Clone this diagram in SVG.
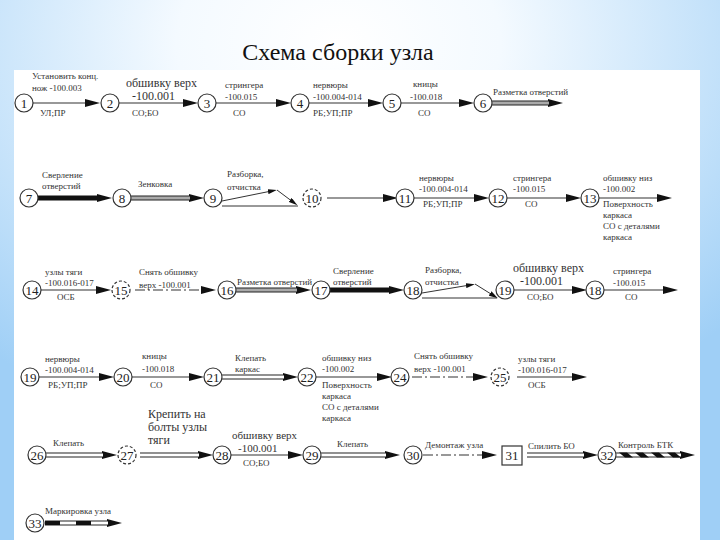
<svg xmlns="http://www.w3.org/2000/svg" width="720" height="540" viewBox="0 0 720 540">
<defs>
<radialGradient id="bg" cx="0.47" cy="0.08" r="0.75">
<stop offset="0" stop-color="#ffffff"/>
<stop offset="0.3" stop-color="#f4faff"/>
<stop offset="1" stop-color="#9fcff6"/>
</radialGradient>
<marker id="ah" markerWidth="15" markerHeight="8" viewBox="0 0 15 8" refX="1" refY="4" orient="auto" markerUnits="userSpaceOnUse">
<path d="M0,0 L15,4 L0,8 z" fill="#111"/>
</marker>
<marker id="ahs" markerWidth="9" markerHeight="5" viewBox="0 0 9 5" refX="1" refY="2.5" orient="auto" markerUnits="userSpaceOnUse">
<path d="M0,0 L9,2.5 L0,5 z" fill="#111"/>
</marker>
<style>
.c{fill:#fff;stroke:#333;stroke-width:1.2}
.cd{fill:#fff;stroke:#333;stroke-width:1.2;stroke-dasharray:3 2}
.n{font-family:"Liberation Serif","DejaVu Serif",serif;font-size:13px;fill:#222;text-anchor:middle}
.t{font-family:"Liberation Serif","DejaVu Serif",serif;font-size:9px;fill:#333}
.tb{font-size:12px}
.tm{font-size:11px}
.ln{stroke:#333;stroke-width:1.2;fill:none;marker-end:url(#ah)}
.lns{stroke:#333;stroke-width:1;fill:none;marker-end:url(#ahs)}
.pl{stroke:#333;stroke-width:1;fill:none}
.thick{stroke:#111;stroke-width:5;fill:none;marker-end:url(#ah)}
.dbo{stroke:#222;stroke-width:5;fill:none;marker-end:url(#ah)}
.dbg{stroke:#aaa;stroke-width:3;fill:none}
.dbw{stroke:#fff;stroke-width:3;fill:none}
.dd{stroke-dasharray:10 3 2 3}
.blk{fill:#111}
</style>
</defs>
<rect x="0" y="0" width="720" height="540" fill="url(#bg)"/>
<rect x="14" y="70" width="686" height="470" fill="#fff"/>
<text x="338" y="60" font-family="Liberation Serif, DejaVu Serif, serif" font-size="24" fill="#111" text-anchor="middle">Схема сборки узла</text>

<g id="connectors">
<!-- row 1 -->
<line class="ln" x1="33" y1="103" x2="86" y2="103"/>
<line class="ln" x1="119" y1="103" x2="184" y2="103"/>
<line class="ln" x1="216" y1="103" x2="277" y2="103"/>
<line class="ln" x1="309" y1="103" x2="369" y2="103"/>
<line class="ln" x1="401" y1="103" x2="460" y2="103"/>
<line class="dbo" x1="492" y1="103" x2="549" y2="103"/><line class="dbg" x1="492" y1="103" x2="549" y2="103"/>
<!-- row 2 -->
<line class="thick" x1="38" y1="198" x2="98" y2="198"/>
<line class="dbo" x1="131" y1="198" x2="190" y2="198"/><line class="dbg" x1="131" y1="198" x2="190" y2="198"/>
<line class="lns" x1="222" y1="201" x2="269" y2="191.5"/>
<line class="lns" x1="277" y1="190" x2="291" y2="200.5"/>
<line class="pl" x1="222" y1="206" x2="298" y2="206"/>
<line class="ln" x1="327" y1="198" x2="384" y2="198"/>
<line class="ln" x1="414" y1="198" x2="475" y2="198"/>
<line class="ln" x1="507" y1="198" x2="567" y2="198"/>
<line class="ln" x1="599" y1="198" x2="658" y2="198"/>
<!-- row 3 -->
<line class="ln" x1="41" y1="290" x2="97" y2="290"/>
<line class="ln dd" x1="135" y1="290" x2="202" y2="290"/>
<line class="dbo" x1="236" y1="290" x2="297" y2="290"/><line class="dbg" x1="236" y1="290" x2="297" y2="290"/>
<line class="thick" x1="330" y1="290" x2="390" y2="290"/>
<line class="lns" x1="422" y1="293" x2="467" y2="285.5"/>
<line class="lns" x1="475" y1="284" x2="491" y2="294"/>
<line class="pl" x1="422" y1="298" x2="497" y2="298"/>
<line class="ln" x1="514" y1="290" x2="573" y2="290"/>
<line class="ln" x1="604" y1="290" x2="664" y2="290"/>
<!-- row 4 -->
<line class="ln" x1="39" y1="377" x2="100" y2="377"/>
<line class="ln" x1="132" y1="377" x2="190" y2="377"/>
<line class="dbo" x1="222" y1="377" x2="284" y2="377"/><line class="dbw" x1="222" y1="377" x2="284" y2="377"/>
<line class="ln" x1="316" y1="377" x2="378" y2="377"/>
<line class="ln dd" x1="412" y1="377" x2="474" y2="377"/>
<line class="ln" x1="517" y1="377" x2="573" y2="377"/>
<!-- row 5 -->
<line class="dbo" x1="46" y1="455" x2="103" y2="455"/><line class="dbw" x1="46" y1="455" x2="103" y2="455"/>
<line class="dbo" x1="140" y1="455" x2="199" y2="455"/><line class="dbw" x1="140" y1="455" x2="199" y2="455"/>
<line class="ln" x1="231" y1="455" x2="289" y2="455"/>
<line class="dbo" x1="321" y1="455" x2="386" y2="455"/><line class="dbw" x1="321" y1="455" x2="386" y2="455"/>
<line class="ln dd" x1="423" y1="455" x2="483" y2="455"/>
<line class="dbo" x1="527" y1="455" x2="584" y2="455"/><line class="dbw" x1="527" y1="455" x2="584" y2="455"/>
<line class="dbo" x1="616" y1="455" x2="681" y2="455"/><line class="dbw" x1="616" y1="455" x2="681" y2="455"/>
<polygon class="blk" points="619,452.5 627,452.5 633,457.5 625,457.5"/>
<polygon class="blk" points="635,452.5 643,452.5 649,457.5 641,457.5"/>
<polygon class="blk" points="651,452.5 659,452.5 665,457.5 657,457.5"/>
<polygon class="blk" points="667,452.5 675,452.5 681,457.5 673,457.5"/>
<!-- row 6 -->
<line class="dbo" x1="45" y1="523" x2="108" y2="523"/><line class="dbw" x1="45" y1="523" x2="108" y2="523"/>
<rect class="blk" x="45" y="521" width="15" height="4"/>
<rect class="blk" x="76" y="521" width="15" height="4"/>
</g>

<g id="n1"><circle class="c" cx="24" cy="103" r="9"/><text class="n" x="24" y="108">1</text>
<text class="t" x="32" y="79">Установить конц.</text><text class="t" x="32" y="91">нож -100.003</text><text class="t" x="40" y="116">УЛ;ПР</text></g>
<g id="n2"><circle class="c" cx="110" cy="103" r="9"/><text class="n" x="110" y="108">2</text>
<text class="t tb" x="126" y="87">обшивку верх</text><text class="t tb" x="132" y="100">-100.001</text><text class="t" x="132" y="116">СО;БО</text></g>
<g id="n3"><circle class="c" cx="207" cy="103" r="9"/><text class="n" x="207" y="108">3</text>
<text class="t" x="225" y="88">стрингера</text><text class="t" x="225" y="100">-100.015</text><text class="t" x="233" y="116">СО</text></g>
<g id="n4"><circle class="c" cx="300" cy="103" r="9"/><text class="n" x="300" y="108">4</text>
<text class="t" x="313" y="88">нервюры</text><text class="t" x="313" y="100">-100.004-014</text><text class="t" x="313" y="116">РБ;УП;ПР</text></g>
<g id="n5"><circle class="c" cx="392" cy="103" r="9"/><text class="n" x="392" y="108">5</text>
<text class="t" x="413" y="87">кницы</text><text class="t" x="410" y="100">-100.018</text><text class="t" x="418" y="116">СО</text></g>
<g id="n6"><circle class="c" cx="483" cy="103" r="9"/><text class="n" x="483" y="108">6</text>
<text class="t" x="493" y="95">Разметка отверстий</text></g>

<g id="n7"><circle class="c" cx="29" cy="198" r="9"/><text class="n" x="29" y="203">7</text>
<text class="t" x="42" y="178">Сверление</text><text class="t" x="42" y="189">отверстий</text></g>
<g id="n8"><circle class="c" cx="122" cy="198" r="9"/><text class="n" x="122" y="203">8</text>
<text class="t" x="138" y="187">Зенковка</text></g>
<g id="n9"><circle class="c" cx="213" cy="198" r="9"/><text class="n" x="213" y="203">9</text>
<text class="t" x="227" y="177">Разборка,</text><text class="t" x="227" y="190">отчистка</text></g>
<g id="n10"><circle class="cd" cx="312" cy="198" r="9"/><text class="n" x="312" y="203">10</text></g>
<g id="n11"><circle class="c" cx="405" cy="198" r="9"/><text class="n" x="405" y="203">11</text>
<text class="t" x="419" y="181">нервюры</text><text class="t" x="419" y="192">-100.004-014</text><text class="t" x="423" y="207">РБ;УП;ПР</text></g>
<g id="n12"><circle class="c" cx="498" cy="198" r="9"/><text class="n" x="498" y="203">12</text>
<text class="t" x="513" y="181">стрингера</text><text class="t" x="513" y="192">-100.015</text><text class="t" x="525" y="207">СО</text></g>
<g id="n13"><circle class="c" cx="590" cy="198" r="9"/><text class="n" x="590" y="203">13</text>
<text class="t" x="603" y="181">обшивку низ</text><text class="t" x="603" y="192">-100.002</text><text class="t" x="603" y="207">Поверхность</text><text class="t" x="603" y="218">каркаса</text><text class="t" x="603" y="229">СО с деталями</text><text class="t" x="603" y="240">каркаса</text></g>

<g id="n14"><circle class="c" cx="32" cy="290" r="9"/><text class="n" x="32" y="295">14</text>
<text class="t" x="45" y="275">узлы тяги</text><text class="t" x="45" y="286">-100.016-017</text><text class="t" x="57" y="300">ОСБ</text></g>
<g id="n15"><circle class="cd" cx="121" cy="290" r="9"/><text class="n" x="121" y="295">15</text>
<text class="t" x="139" y="275">Снять обшивку</text><text class="t" x="139" y="288">верх -100.001</text></g>
<g id="n16"><circle class="c" cx="227" cy="290" r="9"/><text class="n" x="227" y="295">16</text>
<text class="t" x="237" y="285">Разметка отверстий</text></g>
<g id="n17"><circle class="c" cx="321" cy="290" r="9"/><text class="n" x="321" y="295">17</text>
<text class="t" x="333" y="274">Сверление</text><text class="t" x="333" y="285">отверстий</text></g>
<g id="n18"><circle class="c" cx="413" cy="290" r="9"/><text class="n" x="413" y="295">18</text>
<text class="t" x="425" y="273">Разборка,</text><text class="t" x="425" y="285">отчистка</text></g>
<g id="n19"><circle class="c" cx="505" cy="290" r="9"/><text class="n" x="505" y="295">19</text>
<text class="t tb" x="513" y="272">обшивку верх</text><text class="t tb" x="520" y="285">-100.001</text><text class="t" x="527" y="300">СО;БО</text></g>
<g id="n18b"><circle class="c" cx="595" cy="290" r="9"/><text class="n" x="595" y="295">18</text>
<text class="t" x="613" y="274">стрингера</text><text class="t" x="613" y="286">-100.015</text><text class="t" x="625" y="300">СО</text></g>

<g id="n19b"><circle class="c" cx="30" cy="377" r="9"/><text class="n" x="30" y="382">19</text>
<text class="t" x="45" y="362">нервюры</text><text class="t" x="45" y="373">-100.004-014</text><text class="t" x="48" y="388">РБ;УП;ПР</text></g>
<g id="n20"><circle class="c" cx="123" cy="377" r="9"/><text class="n" x="123" y="382">20</text>
<text class="t" x="142" y="359">кницы</text><text class="t" x="142" y="372">-100.018</text><text class="t" x="150" y="388">СО</text></g>
<g id="n21"><circle class="c" cx="213" cy="377" r="9"/><text class="n" x="213" y="382">21</text>
<text class="t" x="235" y="361">Клепать</text><text class="t" x="235" y="372">каркас</text></g>
<g id="n22"><circle class="c" cx="307" cy="377" r="9"/><text class="n" x="307" y="382">22</text>
<text class="t" x="322" y="361">обшивку низ</text><text class="t" x="322" y="372">-100.002</text><text class="t" x="322" y="388">Поверхность</text><text class="t" x="322" y="399">каркаса</text><text class="t" x="322" y="410">СО с деталями</text><text class="t" x="322" y="421">каркаса</text></g>
<g id="n24"><circle class="c" cx="400" cy="377" r="9"/><text class="n" x="400" y="382">24</text>
<text class="t" x="414" y="359">Снять обшивку</text><text class="t" x="414" y="372">верх -100.001</text></g>
<g id="n25"><circle class="cd" cx="500" cy="377" r="9"/><text class="n" x="500" y="382">25</text>
<text class="t" x="518" y="362">узлы тяги</text><text class="t" x="518" y="373">-100.016-017</text><text class="t" x="528" y="388">ОСБ</text></g>

<g id="n26"><circle class="c" cx="37" cy="455" r="9"/><text class="n" x="37" y="460">26</text>
<text class="t" x="53" y="446">Клепать</text></g>
<g id="n27"><circle class="cd" cx="127" cy="455" r="9"/><text class="n" x="127" y="460">27</text>
<text class="t tb" x="148" y="418">Крепить на</text><text class="t tb" x="148" y="431">болты узлы</text><text class="t tb" x="148" y="444">тяги</text></g>
<g id="n28"><circle class="c" cx="222" cy="455" r="9"/><text class="n" x="222" y="460">28</text>
<text class="t tm" x="232" y="439">обшивку верх</text><text class="t tm" x="238" y="452">-100.001</text><text class="t" x="243" y="466">СО;БО</text></g>
<g id="n29"><circle class="c" cx="312" cy="455" r="9"/><text class="n" x="312" y="460">29</text>
<text class="t" x="337" y="447">Клепать</text></g>
<g id="n30"><circle class="c" cx="413" cy="455" r="9"/><text class="n" x="413" y="460">30</text>
<text class="t" x="425" y="448">Демонтаж узла</text></g>
<g id="n31"><rect x="502" y="446" width="20" height="19" fill="#fff" stroke="#333" stroke-width="1.2"/><text class="n" x="512" y="460">31</text>
<text class="t" x="528" y="449">Спилить БО</text></g>
<g id="n32"><circle class="c" cx="607" cy="455" r="9"/><text class="n" x="607" y="460">32</text>
<text class="t" x="618" y="448">Контроль БТК</text></g>

<g id="n33"><circle class="c" cx="35" cy="523" r="9"/><text class="n" x="35" y="528">33</text>
<text class="t" x="45" y="514">Маркировка узла</text></g>
</svg>
